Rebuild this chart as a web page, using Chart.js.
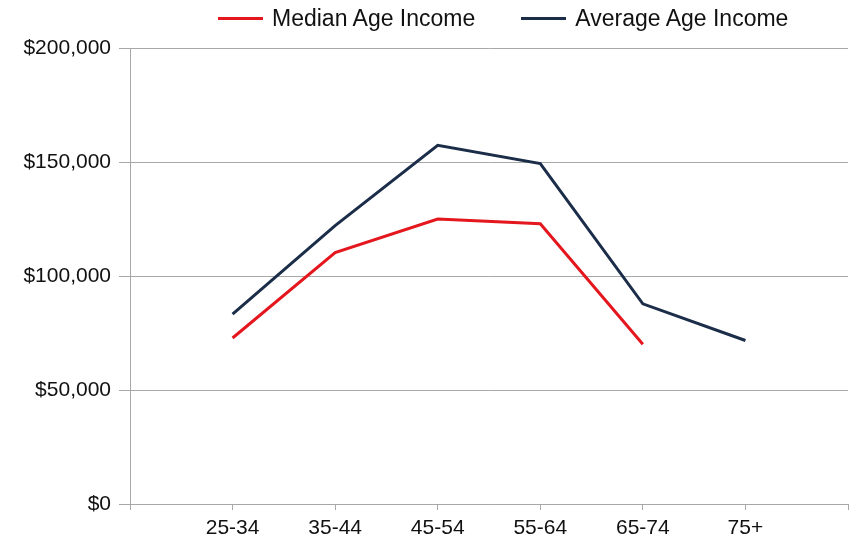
<!DOCTYPE html>
<html><head><meta charset="utf-8">
<script src="https://cdn.jsdelivr.net/npm/chart.js@4/dist/chart.umd.min.js"></script>
<style>
html,body{margin:0;padding:0;background:#fff;}
#wrap{position:relative;width:857px;height:544px;}
#legend{position:absolute;top:7px;left:218px;display:flex;font-family:"Liberation Sans",Arial,sans-serif;font-size:23px;line-height:23px;color:#111;white-space:nowrap}
.item{display:flex;align-items:center;margin-right:46px}
.sw{width:45px;height:3px;margin-right:9px}
</style></head>
<body><div id="wrap"><canvas id="c" width="857" height="544"></canvas><div id="legend"></div></div>
<script>
const categories = ['25-34','35-44','45-54','55-64','65-74','75+'];
const medianIncome = [72800,110300,125000,122900,70100,null];
const averageIncome = [83300,122100,157300,149300,87800,71700];
const yTicks = [0,50000,100000,150000,200000];
const seriesNames = ['Median Age Income','Average Age Income'];
const seriesColors = ['#e3171d','#1b2d48'];

const labels = [''].concat(categories, ['']);
const pad = arr => [null].concat(arr, [null]);
const seriesValues = [medianIncome, averageIncome];

const gridColor = '#a8a8a8';
const fontSpec = {family:'"Liberation Sans", Arial, sans-serif', size:21};

const lg = document.getElementById('legend');
seriesNames.forEach((n,i)=>{
  const it = document.createElement('div'); it.className='item';
  const sw = document.createElement('div'); sw.className='sw'; sw.style.background=seriesColors[i];
  const tx = document.createElement('span'); tx.textContent=n;
  it.appendChild(sw); it.appendChild(tx); lg.appendChild(it);
});

new Chart(document.getElementById('c'), {
  type:'line',
  data:{
    labels: labels,
    datasets: seriesNames.map((n,i)=>({
      label:n,
      data: pad(seriesValues[i]),
      borderColor: seriesColors[i],
      backgroundColor: seriesColors[i],
      borderWidth: 3,
      pointRadius: 0,
      pointHoverRadius: 0,
      tension: 0,
      fill: false,
      spanGaps: false
    }))
  },
  options:{
    responsive:false,
    animation:false,
    devicePixelRatio:1,
    layout:{padding:{top:48,right:9,bottom:0,left:0}},
    plugins:{legend:{display:false},tooltip:{enabled:false}},
    scales:{
      x:{
        type:'category',
        offset:false,
        grid:{display:true,drawOnChartArea:false,drawTicks:true,tickLength:6,color:gridColor},
        border:{display:true,color:gridColor,width:1},
        ticks:{autoSkip:false,maxRotation:0,minRotation:0,padding:6,color:'#111',font:fontSpec},
        afterFit: s => { s.height = 40; }
      },
      y:{
        min:0,max:200000,
        grid:{color:gridColor,tickLength:11,drawTicks:true},
        border:{display:true,color:gridColor,width:1},
        afterBuildTicks: s => { s.ticks = yTicks.map(v=>({value:v})); },
        ticks:{padding:8,color:'#111',font:fontSpec,
          callback: v => '$' + Number(v).toLocaleString('en-US')},
        afterFit: s => { s.width = 130; }
      }
    }
  }
});
</script>
</body></html>
